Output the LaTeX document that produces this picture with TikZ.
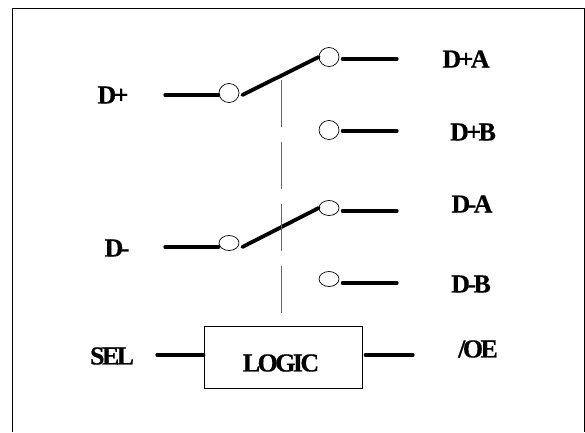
\documentclass[tikz,border=0pt]{standalone}
\usepackage{fontspec}
\setmainfont{Liberation Serif}[LetterSpace=-10,FakeBold=0.6]
\usetikzlibrary{calc}
\usetikzlibrary{shapes.geometric}
\tikzset{
  wire/.style={line width=3.2pt,line cap=round},
  lever/.style={wire,line width=3.8pt},
  pin/.style={ellipse,draw,line width=0.7pt,fill=white,inner sep=0pt,minimum width=20pt,minimum height=19pt},
  flatpin/.style={pin,minimum height=15pt},
  lbl/.style={inner sep=0pt,font=\fontsize{26}{28}\selectfont\bfseries},
}
\begin{document}
\begin{tikzpicture}[x=1pt,y=-1pt]
  \useasboundingbox (0,0) rectangle (585,432);
  \draw[line width=0.9pt] (12.5,432) |- (584,8.5) -- (584,432);
  % contacts
  \node[pin] (dpin) at (229,93) {};
  \node[pin] (dpa) at (329,57) {};
  \node[pin] (dpb) at (329,130) {};
  \node[flatpin] (dmin) at (229,243) {};
  \node[flatpin] (dma) at (329,208) {};
  \node[flatpin] (dmb) at (329,279) {};
  \node[draw,line width=0.6pt,minimum width=158pt,minimum height=62pt,inner sep=0pt] (logic) at (283,357) {};
  % labels
  \node[lbl] (ldp) at (113,95) {D+};
  \node[lbl] (ldm) at (117,248) {D-};
  \node[lbl] (lsel) at (112,356) {SEL};
  \node[lbl] (lpa) at (466,59) {D+A};
  \node[lbl] (lpb) at (473,132) {D+B};
  \node[lbl] (lma) at (472,204) {D-A};
  \node[lbl] (lmb) at (471,284) {D-B};
  \node[lbl] (loe) at (478,349) {/OE};
  \node[lbl] (ltxt) at (281,363) {LOGIC};
  % free ends
  \coordinate (a1) at (165,95);
  \coordinate (a2) at (165,247);
  \coordinate (a3) at (157,355);
  \coordinate (b1) at (397,59);
  \coordinate (b2) at (397,131);
  \coordinate (b3) at (397,211);
  \coordinate (b4) at (397,283);
  \coordinate (b5) at (413,355);
  \coordinate (t) at (281,80);
  % leads
  \draw[wire] (a1) -- (a1 -| dpin.west);
  \draw[wire] (a2) -- (a2 -| dmin.west);
  \draw[wire] (a3) -- (a3 -| logic.west);
  \draw[wire] ($(b1 -| dpa.east)+(3,0)$) -- (b1);
  \draw[wire] ($(b2 -| dpb.east)+(3,0)$) -- (b2);
  \draw[wire] ($(b3 -| dma.east)+(3,0)$) -- (b3);
  \draw[wire] ($(b4 -| dmb.east)+(3,0)$) -- (b4);
  \draw[wire] ($(b5 -| logic.east)+(3,0)$) -- (b5);
  % levers
  \draw[lever] ($(a1 -| dpin.east)+(3,0)$) -- (dpa.west);
  \draw[lever] ($(a2 -| dmin.east)+(3,0)$) -- (dma.west);
  % link
  \draw[black!60,line width=1pt,dash pattern=on 47pt off 15pt] (t) -- (t |- logic.north);
\end{tikzpicture}
\end{document}
